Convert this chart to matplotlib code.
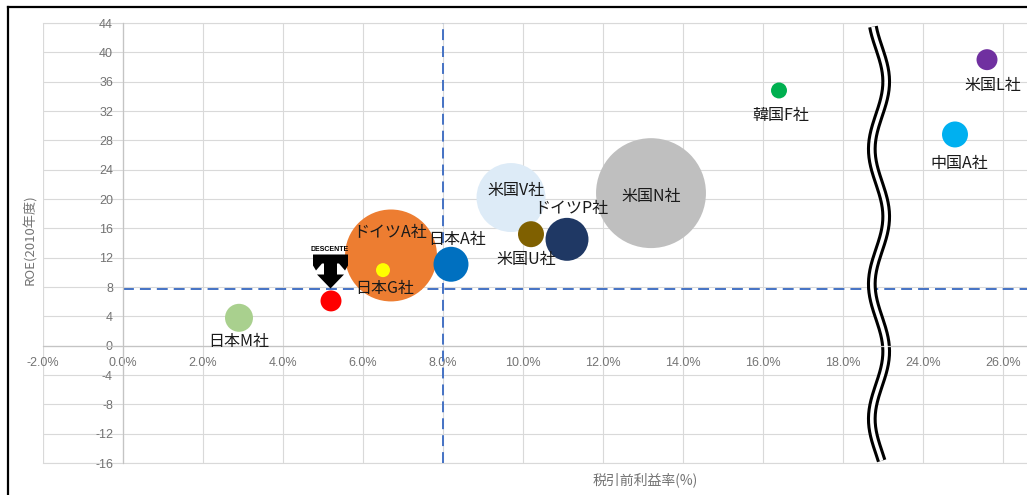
import matplotlib
matplotlib.use("Agg")
import matplotlib.pyplot as plt
import numpy as np
from matplotlib.path import Path
from matplotlib.transforms import offset_copy
from matplotlib.lines import Line2D

# ---------------- data ----------------
companies = ["日本M社", "DESCENTE", "日本G社", "ドイツA社", "日本A社", "米国V社",
             "米国U社", "ドイツP社", "米国N社", "韓国F社", "中国A社", "米国L社"]
pretax_margin = [2.9, 5.2, 6.5, 6.7, 8.2, 9.7, 10.2, 11.1, 13.2, 16.4, 24.8, 25.6]   # %
roe_2010 = [3.8, 6.1, 10.3, 12.3, 11.1, 20.2, 15.2, 14.5, 20.8, 34.8, 28.8, 39.0]    # %
bubble_value = [196, 110, 49, 2116, 306, 1190, 169, 462, 3025, 64, 169, 110]       # relative size
avg_margin = 8.0
avg_roe = 7.7
x_ticks_shown = [-2, 0, 2, 4, 6, 8, 10, 12, 14, 16, 18, 24, 26]
y_ticks = list(range(-16, 45, 4))
break_gap = 4.0          # 20%..24% hidden by the axis break

# ---------------- style ----------------
colors = ["#A9D08E", "#FF0000", "#FFFF00", "#ED7D31", "#0070C0", "#DDEBF7",
          "#7F6000", "#1F3864", "#BFBFBF", "#00B050", "#00B0F0", "#7030A0"]
label_offsets_px = [(0, -24), None, (2, -18), (-1, 23), (6, 25), (5, 7),
                    (-5, -25), (4, 31), (0, -3), (2, -25), (4, -29), (6, -26)]
bubble_scale = 2.07

plt.rcParams['font.family'] = ['Noto Sans CJK JP', 'DejaVu Sans']

W, H = 1027, 495
fig = plt.figure(figsize=(W / 100, H / 100), dpi=100)
fig.patch.set_facecolor("white")
ax = fig.add_axes([43 / W, 1 - 463 / H, (W - 43) / W, (463 - 23) / H])

break_at = 20.0
def to_display(x):
    return x - break_gap if x >= break_at + break_gap else x

xd = [to_display(v) for v in pretax_margin]
x_positions = [to_display(v) for v in x_ticks_shown]

ax.set_xlim(-2, 22.6)
ax.set_ylim(-16, 44)

# grid
grid_c = "#d9d9d9"
ax.set_xticks(x_positions)
ax.set_yticks(y_ticks)
ax.grid(True, color=grid_c, lw=0.8, zorder=0)
ax.set_axisbelow(True)
for s in ["top", "right"]:
    ax.spines[s].set_visible(False)
ax.spines["left"].set_position(("data", 0))
ax.spines["bottom"].set_position(("data", 0))
ax.spines["left"].set_color("#c4c4c4")
ax.spines["bottom"].set_color("#c4c4c4")
ax.spines["left"].set_linewidth(0.9)
ax.spines["bottom"].set_linewidth(0.9)
ax.tick_params(length=0)
ax.tick_params(axis="y", pad=7.2)
ax.tick_params(axis="x", pad=8)
ax.set_xticklabels([f"{v:.1f}%" for v in x_ticks_shown])
ax.set_yticklabels([str(v) for v in y_ticks])
for lab in ax.get_xticklabels() + ax.get_yticklabels():
    lab.set_fontfamily(["Liberation Sans", "DejaVu Sans"])
    lab.set_fontsize(9)
    lab.set_color("#737373")

# border lines of plot area (left, top, bottom)
ax.axvline(-2, color=grid_c, lw=0.8, zorder=0)
ax.axhline(44, color=grid_c, lw=0.8, zorder=0, clip_on=False)
ax.axhline(-16, color=grid_c, lw=0.8, zorder=0, clip_on=False)

# average dashed lines
dash = (0, (5.6, 3.1))
ax.axvline(avg_margin, color="#4472C4", lw=1.4, ls=dash, zorder=2)
ax.hlines(avg_roe, 0, 22.6, color="#4472C4", lw=1.4, linestyles=[dash], zorder=2)

# axis-break wave
yy = np.linspace(43.5, -15.7, 400)
xx = 18.9 + 0.18 * np.cos(2 * np.pi * (yy - 36.0) / 18.4)
ax.plot(xx, yy, color="black", lw=7.0, solid_capstyle="butt", zorder=2.5)
ax.plot(xx, yy, color="white", lw=2.6, solid_capstyle="butt", zorder=2.6)

# bubbles (largest first)
order = np.argsort(bubble_value)[::-1]
for i in order:
    ax.scatter(xd[i], roe_2010[i], s=bubble_value[i] * bubble_scale, color=colors[i],
               edgecolors="none", zorder=3)

# labels
for i, name in enumerate(companies):
    off = label_offsets_px[i]
    if off is None:
        continue
    ax.annotate(name, (xd[i], roe_2010[i]), xytext=(off[0] * 0.72, off[1] * 0.72),
                textcoords="offset points", ha="center", va="center",
                fontsize=11.5, color="#1a1a1a", zorder=5)

# DESCENTE logo above the red bubble
k = companies.index("DESCENTE")
logo_verts = [(-17.5, 17), (17.5, 17), (17.5, 6), (14.5, 1), (8.5, 8), (6.5, 8),
              (6.5, -3), (13.5, -3), (0, -17), (-13.5, -3), (-6.5, -3), (-6.5, 8),
              (-8.5, 8), (-14.5, 1), (-17.5, 6), (-17.5, 17)]
logo_path = Path(logo_verts, closed=True)
tr = offset_copy(ax.transData, fig=fig, x=-1.5, y=30, units="dots")
ax.plot([xd[k]], [roe_2010[k]], marker=logo_path, markersize=25.2, color="black",
        markeredgewidth=0, linestyle="none", transform=tr, zorder=4)
tr2 = offset_copy(ax.transData, fig=fig, x=-1, y=51, units="dots")
ax.text(xd[k], roe_2010[k], "DESCENTE", transform=tr2, ha="center", va="center",
        fontsize=5, fontweight="bold", fontfamily=["Liberation Sans", "DejaVu Sans"],
        color="black", zorder=4)

# axis titles
fig.text(645 / W, 1 - 480 / H, "税引前利益率(%)", ha="center", va="center",
         fontsize=10, color="#737373")
fig.text(30 / W, 1 - 240 / H, "ROE(2010年度)", ha="center", va="center",
         rotation=90, fontsize=9.5, color="#737373")

# outer frame (left and top edges visible)
fig.add_artist(Line2D([8 / W, 8 / W], [0, 1 - 7 / H], transform=fig.transFigure,
                      color="black", lw=1.6))
fig.add_artist(Line2D([8 / W, 1], [1 - 7 / H, 1 - 7 / H], transform=fig.transFigure,
                      color="black", lw=1.6))

fig.savefig("out.png", dpi=100, facecolor="white")
